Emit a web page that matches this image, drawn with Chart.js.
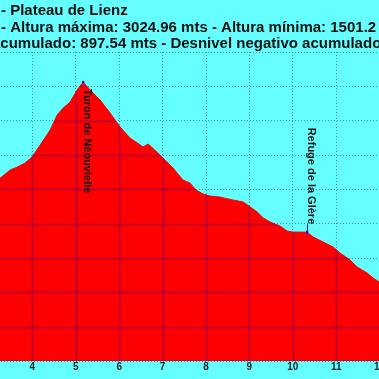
<!DOCTYPE html>
<html>
<head>
<meta charset="utf-8">
<script src="https://cdn.jsdelivr.net/npm/chart.js@4.4.1/dist/chart.umd.min.js"></script>
<style>
  html, body { margin: 0; padding: 0; background: #66ffff; }
  #view { position: relative; width: 379px; height: 379px; overflow: hidden; background: #66ffff; }
  #wrap { position: absolute; left: -11px; top: 0; width: 434px; height: 379px; }
</style>
</head>
<body>
<div id="view"><div id="wrap"><canvas id="c" width="434" height="379"></canvas></div></div>
<script>
// ---- data (distance in km, altitude in m) ----
const distanceKm = [3.20, 3.26, 3.49, 3.65, 3.83, 3.99, 4.18, 4.41, 4.57, 4.71, 4.87, 5.03, 5.17,
  5.33, 5.56, 5.79, 6.02, 6.25, 6.55, 6.67, 6.94, 7.24, 7.47, 7.63, 7.77, 7.93, 8.09, 8.32,
  8.62, 8.86, 9.02, 9.18, 9.32, 9.48, 9.71, 9.87, 10.01, 10.17, 10.33, 10.47, 10.70, 10.93,
  11.09, 11.32, 11.48, 11.71, 11.85, 12.05];
const altitudeM = [2454, 2466, 2513, 2530, 2553, 2588, 2658, 2746, 2833, 2874, 2909, 2979, 3024.96,
  2979, 2920, 2845, 2763, 2699, 2647, 2664, 2600, 2524, 2454, 2437, 2396, 2373, 2361, 2355,
  2338, 2326, 2297, 2268, 2233, 2210, 2186, 2157, 2151, 2151, 2150, 2122, 2093, 2064,
  2029, 1988, 1948, 1913, 1884, 1850];

const waypointNames = ['Turon de Néouvielle', 'Refuge de la Glère'];
const waypointKm = [5.17, 10.33];
const waypointAlt = [3024.96, 2150];

const titleLines = [
  '- Plateau de Lienz',
  '- Altura máxima: 3024.96 mts - Altura mínima: 1501.2',
  'acumulado: 897.54 mts - Desnivel negativo acumulado'
];

const xMin = 3, xMax = 13, xStep = 1;
const xLabelFirst = 4, xLabelLast = 12;
const yMin = 1400, yMax = 3200, yStep = 200;

// ---- plugins ----
const bgPlugin = {
  id: 'bg',
  beforeDraw(chart) {
    const ctx = chart.ctx;
    ctx.save();
    ctx.fillStyle = '#66ffff';
    ctx.fillRect(0, 0, chart.width, chart.height);
    ctx.restore();
  }
};

const titlePlugin = {
  id: 'titles',
  afterDraw(chart) {
    const ctx = chart.ctx;
    const off = 11; // canvas offset vs. visible window
    const xs = [1, 1, -8];
    const ys = [15, 32, 48];
    ctx.save();
    ctx.font = 'bold 15px "Liberation Sans", Arial, sans-serif';
    ctx.fillStyle = '#111';
    ctx.textBaseline = 'alphabetic';
    ctx.textAlign = 'left';
    titleLines.forEach((t, i) => ctx.fillText(t, xs[i] + off, ys[i]));
    ctx.restore();
  }
};

const gridOnFillPlugin = {
  id: 'gridOnFill',
  afterDatasetDraw(chart, args) {
    if (args.index !== 0) return;
    const pts = args.meta.data;
    const area = chart.chartArea;
    const ctx = chart.ctx;
    ctx.save();
    ctx.beginPath();
    ctx.rect(area.left, area.top, area.right - area.left, area.bottom - area.top);
    ctx.clip();
    ctx.beginPath();
    ctx.moveTo(pts[0].x, area.bottom);
    pts.forEach(p => ctx.lineTo(p.x, p.y));
    ctx.lineTo(pts[pts.length - 1].x, area.bottom);
    ctx.closePath();
    ctx.clip();
    ctx.strokeStyle = 'rgba(110,0,100,0.42)';
    ctx.lineWidth = 2;
    const xs = chart.scales.x, ys = chart.scales.y;
    xs.ticks.forEach(t => {
      const px = Math.round(xs.getPixelForValue(t.value)) + 0.5;
      ctx.beginPath(); ctx.moveTo(px, area.top); ctx.lineTo(px, area.bottom); ctx.stroke();
    });
    ys.ticks.forEach(t => {
      const py = Math.round(ys.getPixelForValue(t.value)) + 0.5;
      ctx.beginPath(); ctx.moveTo(area.left, py); ctx.lineTo(area.right, py); ctx.stroke();
    });
    ctx.restore();
  }
};

const waypointLabelPlugin = {
  id: 'waypointLabels',
  afterDatasetsDraw(chart) {
    const ctx = chart.ctx;
    const xs = chart.scales.x, ys = chart.scales.y;
    const area = chart.chartArea;
    ctx.save();
    ctx.font = 'bold 11px "Liberation Sans", Arial, sans-serif';
    ctx.fillStyle = '#111';
    waypointNames.forEach((name, i) => {
      const px = xs.getPixelForValue(waypointKm[i]);
      const py = ys.getPixelForValue(waypointAlt[i]);
      const w = ctx.measureText(name).width;
      let start;
      if (py - 8 - w < area.top) {
        start = py + 7;
      } else {
        start = py - 8 - w;
        ctx.strokeStyle = '#0000ff';
        ctx.lineWidth = 1;
        ctx.beginPath();
        ctx.moveTo(Math.round(px) + 0.5, py);
        ctx.lineTo(Math.round(px) + 0.5, py - 8);
        ctx.stroke();
      }
      ctx.save();
      ctx.translate(px + 4, start);
      ctx.rotate(Math.PI / 2);
      ctx.textAlign = 'left';
      ctx.textBaseline = 'middle';
      ctx.fillText(name, 0, 0);
      ctx.restore();
    });
    ctx.restore();
  }
};

// ---- chart ----
const profile = distanceKm.map((d, i) => ({ x: d, y: altitudeM[i] }));
const waypoints = waypointKm.map((d, i) => ({ x: d, y: waypointAlt[i] }));

new Chart(document.getElementById('c'), {
  type: 'line',
  data: {
    datasets: [
      {
        data: profile,
        borderColor: '#ff0000',
        backgroundColor: '#ff0000',
        borderWidth: 1,
        fill: 'start',
        pointRadius: 0,
        pointHoverRadius: 0,
        tension: 0,
        order: 2
      },
      {
        type: 'scatter',
        data: waypoints,
        pointStyle: 'rect',
        pointRadius: 1.6,
        pointHoverRadius: 1.6,
        backgroundColor: '#0000ff',
        borderColor: '#0000ff',
        borderWidth: 0,
        order: 1
      }
    ]
  },
  options: {
    responsive: false,
    animation: false,
    events: [],
    layout: { autoPadding: false, padding: { top: 52, left: 0, right: 0, bottom: 0 } },
    plugins: { legend: { display: false }, title: { display: false }, tooltip: { enabled: false } },
    scales: {
      x: {
        type: 'linear',
        min: xMin, max: xMax,
        ticks: {
          stepSize: xStep,
          color: '#222',
          font: { family: '"Liberation Sans", Arial, sans-serif', size: 10, weight: 'bold' },
          padding: 0,
          maxRotation: 0,
          autoSkip: false,
          callback: v => (v >= xLabelFirst && v <= xLabelLast) ? String(v) : ''
        },
        grid: { color: '#3c9a9a', drawTicks: false, lineWidth: 1 },
        border: { display: false, dash: [1, 2] },
        afterFit(s) { s.height = 18; s.paddingLeft = 0; s.paddingRight = 0; }
      },
      y: {
        min: yMin, max: yMax,
        ticks: { stepSize: yStep, display: false },
        grid: { color: '#3c9a9a', drawTicks: false, lineWidth: 1 },
        border: { display: false, dash: [1, 2] },
        afterFit(s) { s.width = 0; s.paddingTop = 0; s.paddingBottom = 0; }
      }
    }
  },
  plugins: [bgPlugin, gridOnFillPlugin, waypointLabelPlugin, titlePlugin]
});
</script>
</body>
</html>
